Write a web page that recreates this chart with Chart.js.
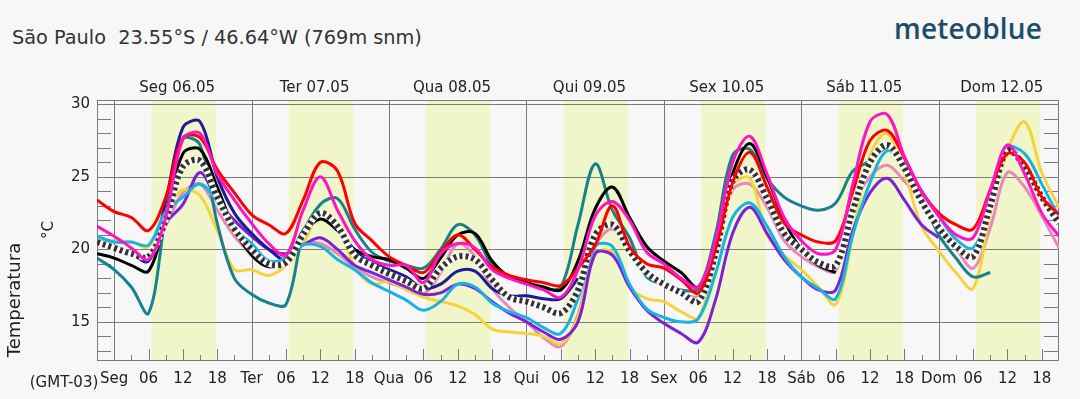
<!DOCTYPE html>
<html>
<head>
<meta charset="utf-8">
<script src="https://cdn.jsdelivr.net/npm/chart.js@4.4.1/dist/chart.umd.min.js"></script>
<style>
  body { margin: 0; background: #f7f7f7; }
  #wrap { position: relative; width: 1080px; height: 399px; background: #f7f7f7; overflow: hidden; }
  #title { position: absolute; left: 12px; top: 28px; font: 19.3px "DejaVu Sans", sans-serif; line-height: 19px; color: #333; white-space: pre; }
  #logo { position: absolute; left: 894px; top: 9px; font: 600 28px "Open Sans", sans-serif; color: #1e4d6b; letter-spacing: 0.2px; }
  canvas { position: absolute; left: 0; top: 0; }
</style>
</head>
<body>
<div id="wrap">
  <div id="title">São Paulo  23.55°S / 46.64°W (769m snm)</div>
  <div id="logo">meteoblue</div>
  <canvas id="myChart" width="1080" height="399"></canvas>
</div>
<script>
// hours since Seg 06.05 00:00 (GMT-03)
var hours = [-3, 0, 3, 6, 9, 12, 15, 18, 21, 24, 27, 30, 33, 36, 39, 42, 45, 48, 51, 54,
  57, 60, 63, 66, 69, 72, 75, 78, 81, 84, 87, 90, 93, 96, 99, 102, 105, 108, 111, 114,
  117, 120, 123, 126, 129, 132, 135, 138, 141, 144, 147, 150, 153, 156, 159, 162, 165];
var dayNames = ["Seg", "Ter", "Qua", "Qui", "Sex", "Sáb", "Dom"];
var dayTitles = ["Seg 06.05", "Ter 07.05", "Qua 08.05", "Qui 09.05", "Sex 10.05", "Sáb 11.05", "Dom 12.05"];
var tickHours = [0, 6, 12, 18, 24, 30, 36, 42, 48, 54, 60, 66, 72, 78, 84, 90, 96, 102,
  108, 114, 120, 126, 132, 138, 144, 150, 156, 162];
var tempTicks = [15, 20, 25, 30];

// temperature per model, degC
var magenta = [21.6, 20.9, 20.1, 19.3, 22.2, 27.6, 28.0, 25.2, 23.4, 21.8, 20.4, 19.6, 22.7, 25.0, 22.7, 20.6, 19.3, 18.9, 18.9, 17.7,
  19.7, 20.4, 20.1, 18.6, 18.0, 17.6, 17.2, 16.7, 18.6, 22.3, 23.3, 22.0, 19.8, 19.0, 18.0, 17.4, 20.6, 26.0, 27.8, 25.2,
  22.2, 20.6, 19.7, 20.0, 24.5, 28.8, 29.3, 26.4, 24.0, 22.3, 21.0, 20.8, 24.1, 27.2, 25.2, 22.5, 20.9];
var red = [23.4, 22.6, 22.2, 21.3, 23.6, 27.7, 27.7, 25.5, 23.9, 22.4, 21.7, 21.1, 23.4, 26.0, 25.4, 21.8, 20.6, 19.5, 18.9, 18.4,
  19.8, 21.0, 20.0, 18.8, 18.2, 17.9, 17.7, 17.5, 18.7, 20.3, 23.0, 20.2, 19.0, 18.7, 17.9, 17.0, 20.0, 24.6, 26.7, 24.3,
  21.8, 21.0, 20.5, 20.6, 24.0, 27.5, 28.2, 26.3, 24.0, 22.5, 21.7, 21.4, 24.1, 26.6, 26.0, 23.6, 22.4];
var meanTemp = [20.5, 20.1, 19.7, 19.5, 22.0, 25.7, 26.1, 23.6, 21.4, 20.0, 19.0, 19.1, 21.0, 22.5, 21.6, 19.6, 18.9, 18.3, 17.8, 17.3,
  18.7, 19.5, 19.3, 17.9, 16.7, 16.4, 16.0, 15.6, 17.2, 21.0, 21.7, 19.9, 18.4, 17.6, 17.0, 16.4, 19.7, 24.7, 25.5, 23.5,
  21.1, 20.0, 19.1, 18.9, 22.7, 26.0, 27.2, 25.6, 23.3, 21.5, 20.2, 19.5, 23.0, 26.8, 25.7, 23.6, 21.8];
var black = [19.7, 19.4, 18.9, 18.5, 22.3, 26.6, 26.9, 24.3, 21.4, 19.6, 18.8, 19.3, 21.1, 22.1, 21.3, 20.0, 19.5, 19.3, 18.7, 18.0,
  19.4, 21.0, 21.1, 19.2, 18.1, 17.7, 17.4, 17.2, 19.2, 22.8, 24.3, 22.2, 20.2, 19.2, 18.4, 17.4, 20.4, 25.2, 27.3, 25.0,
  22.0, 20.0, 18.9, 18.4, null, null, null, null, null, null, null, null, null, null, null, null, null];
var cyan = [20.9, 20.5, 20.5, 20.3, 22.6, 23.6, 24.5, 23.3, 21.4, 20.4, 19.2, 19.4, 20.3, 20.2, 19.3, 18.6, 17.7, 17.1, 16.5, 15.8,
  16.4, 17.6, 17.4, 16.3, 15.7, 15.3, 14.6, 14.2, 16.6, 20.2, 20.2, 17.6, 15.9, 15.3, 15.0, 15.2, 18.3, 22.2, 23.2, 21.6,
  19.5, 18.1, 17.3, 16.6, 21.0, 24.6, 26.8, 25.9, 24.0, 22.3, 20.7, 20.1, 23.0, 27.0, 26.6, 24.5, 22.2];
var teal = [19.4, 18.6, 17.4, 15.6, 22.3, 27.6, 27.2, 21.8, 18.0, 16.9, 16.3, 16.2, 21.0, 23.1, 23.5, 21.4, 19.8, 19.2, 18.9, 18.7,
  20.0, 21.7, 21.0, 18.9, 18.1, 17.7, 17.3, 17.4, 21.7, 25.9, 22.7, 20.8, 18.1, 17.6, 17.2, 17.3, 21.0, 26.5, 26.9, 24.9,
  23.6, 23.0, 22.7, 23.2, 25.4, 26.1, 27.0, 25.9, 23.6, 21.0, 19.4, 18.1, 18.4, null, null, null, null];
var navy = [20.6, 20.2, 19.7, 19.2, 23.3, 28.4, 28.8, 25.0, 22.5, 21.1, 20.0, 19.3, 21.3, 22.6, 21.6, 19.9, 19.1, 18.6, 18.1, 17.3,
  17.6, 18.5, 18.5, 17.3, 16.8, 16.8, 16.6, 16.6, 18.0, null, null, null, null, null, null, null, null, null, null, null,
  null, null, null, null, null, null, null, null, null, null, null, null, null, null, null, null, null];
var purple = [20.5, 20.1, 19.7, 19.2, 21.8, 23.1, 25.3, 23.4, 22.0, 20.9, 20.0, 19.7, 20.3, 20.8, 20.0, 18.9, 18.4, 17.9, 17.4, 16.9,
  17.0, 17.6, 17.3, 16.4, 15.6, 15.0, 14.3, 13.8, 15.0, 19.7, 19.6, 17.4, 15.8, 14.9, 14.2, 13.6, 16.5, 21.1, 22.9, 21.1,
  19.3, 18.1, 17.2, 17.2, 21.3, 23.9, 24.9, 23.4, 21.7, 20.8, null, null, null, null, null, null, null];
var yellow = [20.6, 20.6, 20.5, 20.2, 22.7, 24.1, 23.7, 21.3, 18.6, 18.6, 18.2, 18.9, 20.4, 22.5, 21.7, 18.8, 17.6, 17.8, 17.2, 16.7,
  16.4, 16.1, 15.5, 14.5, 14.3, 14.2, 14.0, 13.5, 15.3, 19.7, 19.8, 17.4, 16.6, 16.4, 15.7, 15.3, 19.3, 24.4, 24.9, 21.0,
  19.6, 18.6, 17.4, 16.2, 21.0, 26.5, 28.0, 25.3, 21.6, 19.9, 18.4, 17.3, 22.5, 26.8, 28.8, 25.3, 22.9];
var pink = [20.6, 20.2, 19.8, 19.3, 21.6, 23.9, 24.5, 22.7, 20.9, 19.7, 18.8, 19.2, 20.4, 20.4, 19.7, 18.8, 18.1, 17.7, 17.3, 16.9,
  18.4, 20.4, 19.5, 17.3, 16.0, 15.0, 13.9, 13.3, 15.5, 20.2, 21.4, 20.0, 18.2, 17.5, 17.0, 16.8, 20.3, 24.1, 24.5, 22.9,
  20.6, 19.5, 18.8, 18.5, 23.0, 25.0, 25.8, 24.7, 23.3, 21.7, 20.1, 18.7, 21.5, 25.3, 24.3, 22.3, 20.1];

function line(values, color, width) {
  return {
    data: hours.map(function (h, i) { return { x: h, y: values[i] }; }),
    borderColor: color,
    borderWidth: width || 3,
    pointRadius: 0,
    tension: 0.35,
    fill: false,
    spanGaps: false
  };
}

var meanDash = line(meanTemp, "#333333", 6);
meanDash.borderDash = [3, 3];

// first dataset is drawn on top
var datasets = [
  line(magenta, "#ff14c4"),
  line(red, "#ff0000"),
  meanDash,
  line(meanTemp, "#ffffff", 6),
  line(black, "#000000"),
  line(cyan, "#18b2e6"),
  line(teal, "#17828c"),
  line(navy, "#1c1c96"),
  line(purple, "#7b22d4"),
  line(yellow, "#f4d43c"),
  line(pink, "#e68ab8")
];

var frame = {
  id: "frame",
  beforeDraw: function (chart) {
    var ctx = chart.ctx, a = chart.chartArea, x = chart.scales.x;
    ctx.save();
    ctx.fillStyle = "#f0f6c9";
    for (var d = 0; d < 7; d++) {
      var l = x.getPixelForValue(d * 24 + 6.5), r = x.getPixelForValue(d * 24 + 17.75);
      ctx.fillRect(l, a.top, r - l, a.bottom - a.top);
    }
    ctx.restore();
  },
  beforeDatasetsDraw: function (chart) {
    var ctx = chart.ctx, a = chart.chartArea, x = chart.scales.x, y = chart.scales.y;
    ctx.save();
    ctx.strokeStyle = "#7a7a7a";
    ctx.lineWidth = 1;
    ctx.beginPath();
    tempTicks.forEach(function (v) {
      var py = Math.round(y.getPixelForValue(v)) + 0.5;
      ctx.moveTo(a.left, py); ctx.lineTo(a.right, py);
    });
    for (var d = 0; d < 7; d++) {
      var px = Math.round(x.getPixelForValue(d * 24)) + 0.5;
      ctx.moveTo(px, a.top); ctx.lineTo(px, a.bottom);
    }
    // minor ticks
    for (var t = 13; t <= 30; t++) {
      var ty = Math.round(y.getPixelForValue(t)) + 0.5;
      ctx.moveTo(a.left, ty); ctx.lineTo(a.left + 14, ty);
      ctx.moveTo(a.right, ty); ctx.lineTo(a.right - 15, ty);
    }
    for (var h = 3; h < 165; h += 3) {
      if (h % 24 === 0) continue;
      var hx = Math.round(x.getPixelForValue(h)) + 0.5;
      var len = h % 6 === 0 ? 12 : 6;
      ctx.moveTo(hx, a.bottom); ctx.lineTo(hx, a.bottom - len);
    }
    ctx.stroke();
    ctx.strokeRect(Math.round(a.left) + 0.5, Math.round(a.top) + 0.5,
      Math.round(a.right - a.left) - 1, Math.round(a.bottom - a.top) - 1);
    ctx.restore();
  },
  afterDraw: function (chart) {
    var ctx = chart.ctx, x = chart.scales.x;
    ctx.save();
    ctx.fillStyle = "#222";
    ctx.textAlign = "center";
    ctx.textBaseline = "middle";
    ctx.font = '15px "DejaVu Sans"';
    dayTitles.forEach(function (txt, d) {
      ctx.fillText(txt, x.getPixelForValue(d * 24 + 11), 88);
    });
    ctx.fillText("(GMT-03)", 64, 383);
    ctx.save();
    ctx.translate(49, 230);
    ctx.rotate(-Math.PI / 2);
    ctx.fillText("°C", 0, 0);
    ctx.restore();
    ctx.translate(15, 300);
    ctx.rotate(-Math.PI / 2);
    ctx.font = '18px "DejaVu Sans"';
    ctx.fillText("Temperatura", 0, 0);
    ctx.restore();
  }
};

window.onload = function () {
  var ctx = document.getElementById("myChart").getContext("2d");
  var myChart = new Chart(ctx, {
    type: "line",
    data: { datasets: datasets },
    plugins: [frame],
    options: {
      responsive: false,
      animation: false,
      layout: { padding: { left: 0, right: 21, top: 100, bottom: 0 } },
      plugins: { legend: { display: false }, tooltip: { enabled: false } },
      scales: {
        x: {
          type: "linear",
          min: -3,
          max: 165,
          grid: { display: false, drawTicks: false },
          border: { display: false },
          afterBuildTicks: function (s) {
            s.ticks = tickHours.map(function (v) { return { value: v }; });
          },
          afterFit: function (s) { s.height = 38; },
          ticks: {
            autoSkip: false,
            maxRotation: 0,
            padding: 9,
            color: "#222",
            font: { family: "DejaVu Sans", size: 15 },
            callback: function (v) {
              if (v % 24 === 0) return dayNames[v / 24];
              var hh = v % 24;
              return hh < 10 ? "0" + hh : String(hh);
            }
          }
        },
        y: {
          min: 12.3,
          max: 30.3,
          grid: { display: false, drawTicks: false },
          border: { display: false },
          afterBuildTicks: function (s) {
            s.ticks = tempTicks.map(function (v) { return { value: v }; });
          },
          afterFit: function (s) { s.width = 97; },
          ticks: {
            padding: 7,
            color: "#222",
            font: { family: "DejaVu Sans", size: 15 }
          }
        }
      }
    }
  });
};
</script>
</body>
</html>
